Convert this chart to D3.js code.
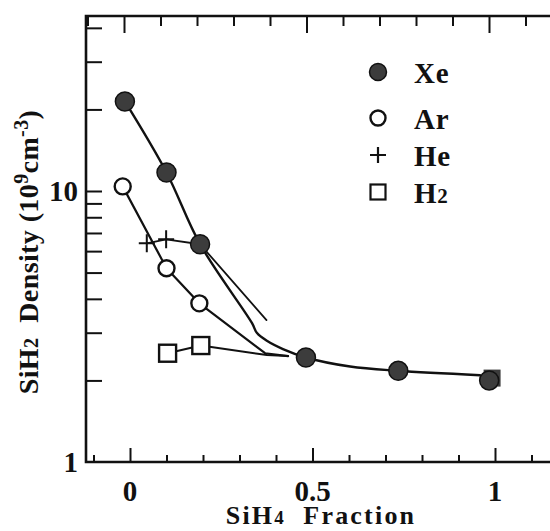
<!DOCTYPE html>
<html>
<head>
<meta charset="utf-8">
<script src="https://cdn.jsdelivr.net/npm/d3@7"></script>
<style>
  html, body { margin: 0; padding: 0; background: #fff; }
  svg { display: block; }
  text { font-family: "Liberation Serif", "Times New Roman", serif; font-weight: bold; fill: #111; }
</style>
</head>
<body>
<svg id="chart" width="550" height="531"></svg>
<script>
// Measured SiH2 density (10^9 cm^-3) versus SiH4 fraction for each diluent gas
const xeFraction = [-0.014, 0.100, 0.192, 0.482, 0.735, 0.984];
const xeDensity  = [21.4, 11.7, 6.36, 2.43, 2.17, 2.00];
const arFraction = [-0.020, 0.100, 0.190];
const arDensity  = [10.4, 5.19, 3.85];
const heFraction = [0.046, 0.099];
const heDensity  = [6.41, 6.63];
const h2Fraction = [0.103, 0.194];
const h2Density  = [2.52, 2.69];
// pure SiH4 point drawn as a filled square behind the last Xe point
const pureFraction = [0.992];
const pureDensity  = [2.04];

// Hand-drawn guide curves through each data set
const xeCurveFraction = [-0.014, 0.100, 0.192, 0.334, 0.348, 0.375, 0.419, 0.482, 0.603, 0.734, 0.959];
const xeCurveDensity  = [21.4, 11.7, 6.36, 3.26, 2.99, 2.80, 2.61, 2.43, 2.25, 2.17, 2.09];
const heCurveFraction = [0.046, 0.099, 0.192, 0.374];
const heCurveDensity  = [6.41, 6.63, 6.36, 3.34];
const arCurveFraction = [-0.020, 0.100, 0.190, 0.370, 0.433];
const arCurveDensity  = [10.4, 5.19, 3.85, 2.52, 2.46];
const h2CurveFraction = [0.103, 0.194, 0.375, 0.433];
const h2CurveDensity  = [2.52, 2.69, 2.48, 2.46];

// Axis ticks
const xMajorTicks = [0, 0.5, 1];
const xTickLabels = ["0", "0.5", "1"];
const xMinorTicks = [-0.1, 0.1, 0.2, 0.3, 0.4, 0.6, 0.7, 0.8, 0.9, 1.1];
const yTicks = [2, 3, 4, 5, 6, 7, 8, 9, 10, 20, 30, 40];
const yTickLabels = [{v: 1, t: "1"}, {v: 10, t: "10"}];

const legendItems = ["Xe", "Ar", "He", "H2"];

const svg = d3.select("#chart");
const frame = {left: 86, top: 16, right: 570, bottom: 462};

const x = d3.scaleLinear().domain([0, 1]).range([130, 495]);
const y = d3.scaleLog().domain([1, 10]).range([462, 191]);

const zip = (a, b) => a.map((v, i) => [v, b[i]]);

// ---- axes ----
const axisStroke = "#111";
function styleAxis(g) {
  g.select(".domain").remove();
  g.selectAll(".tick line").attr("stroke", axisStroke).attr("stroke-width", 2);
  g.selectAll(".tick text").remove();
}

svg.append("g").attr("transform", `translate(0,${frame.bottom})`)
  .call(d3.axisBottom(x).tickValues(xMajorTicks).tickSize(-14)).call(styleAxis);
svg.append("g").attr("transform", `translate(0,${frame.bottom})`)
  .call(d3.axisBottom(x).tickValues(xMinorTicks).tickSize(-7)).call(styleAxis);
svg.append("g").attr("transform", `translate(-6,${frame.top})`)
  .call(d3.axisTop(x).tickValues(xMajorTicks).tickSize(-17)).call(styleAxis);
svg.append("g").attr("transform", `translate(-6,${frame.top})`)
  .call(d3.axisTop(x).tickValues(xMinorTicks).tickSize(-10)).call(styleAxis);
svg.append("g").attr("transform", `translate(${frame.left},0)`)
  .call(d3.axisLeft(y).tickValues(yTicks).tickSize(-16)).call(styleAxis);

// frame lines (right side runs past the page edge)
svg.append("path")
  .attr("d", `M${frame.right},${frame.top}H${frame.left}V${frame.bottom}H${frame.right}`)
  .attr("fill", "none").attr("stroke", axisStroke).attr("stroke-width", 2.6);

// tick labels
svg.selectAll(".xlab").data(xMajorTicks).join("text")
  .attr("x", d => x(d)).attr("y", 501)
  .attr("text-anchor", "middle").attr("font-size", 29)
  .text((d, i) => xTickLabels[i]);
svg.selectAll(".ylab").data(yTickLabels).join("text")
  .attr("x", 78).attr("y", d => y(d.v) + 10)
  .attr("text-anchor", "end").attr("font-size", 29)
  .text(d => d.t);

// axis titles
const xt = svg.append("text").attr("x", 321).attr("y", 524)
  .attr("text-anchor", "middle").attr("font-size", 26).attr("letter-spacing", 2.2);
xt.append("tspan").text("SiH");
xt.append("tspan").attr("font-size", 19).text("4");
xt.append("tspan").text("\u00a0 Fraction");

const yt = svg.append("text")
  .attr("transform", "translate(38,252) rotate(-90)")
  .attr("text-anchor", "middle").attr("font-size", 28).attr("letter-spacing", 0.4);
yt.append("tspan").text("SiH");
yt.append("tspan").attr("font-size", 20).text("2");
yt.append("tspan").text("\u00a0 Density (10");
yt.append("tspan").attr("font-size", 20).attr("dy", -10).text("9");
yt.append("tspan").attr("dy", 10).text("cm");
yt.append("tspan").attr("font-size", 20).attr("dy", -10).text("-3");
yt.append("tspan").attr("dy", 10).text(")");

// ---- curves ----
const line = d3.line().x(d => x(d[0])).y(d => y(d[1]));
const g = svg.append("g").attr("fill", "none").attr("stroke", "#111").attr("stroke-linejoin", "round").attr("stroke-linecap", "round");
g.append("path").attr("d", line.curve(d3.curveCatmullRom.alpha(0.5))(zip(xeCurveFraction, xeCurveDensity))).attr("stroke-width", 2.4);
g.append("path").attr("d", line.curve(d3.curveLinear)(zip(heCurveFraction, heCurveDensity))).attr("stroke-width", 1.8);
g.append("path").attr("d", line.curve(d3.curveLinear)(zip(arCurveFraction, arCurveDensity))).attr("stroke-width", 2.2);
g.append("path").attr("d", line.curve(d3.curveLinear)(zip(h2CurveFraction, h2CurveDensity))).attr("stroke-width", 2);

// ---- markers ----
const xeFill = "#3c3c3c";
const sq = 17;
svg.selectAll(".pure").data(zip(pureFraction, pureDensity)).join("rect")
  .attr("x", d => x(d[0]) - sq / 2).attr("y", d => y(d[1]) - sq / 2)
  .attr("width", sq).attr("height", sq).attr("fill", xeFill);
svg.selectAll(".xe").data(zip(xeFraction, xeDensity)).join("circle")
  .attr("cx", d => x(d[0])).attr("cy", d => y(d[1])).attr("r", 9.5)
  .attr("fill", xeFill).attr("stroke", "#111").attr("stroke-width", 1.5);
svg.selectAll(".ar").data(zip(arFraction, arDensity)).join("circle")
  .attr("cx", d => x(d[0])).attr("cy", d => y(d[1])).attr("r", 8)
  .attr("fill", "#fff").attr("stroke", "#111").attr("stroke-width", 2.4);
svg.selectAll(".he").data(zip(heFraction, heDensity)).join("path")
  .attr("d", d => `M${x(d[0]) - 8},${y(d[1])}h16M${x(d[0])},${y(d[1]) - 9}v18`)
  .attr("fill", "none").attr("stroke", "#111").attr("stroke-width", 2);
svg.selectAll(".h2").data(zip(h2Fraction, h2Density)).join("rect")
  .attr("x", d => x(d[0]) - sq / 2).attr("y", d => y(d[1]) - sq / 2)
  .attr("width", sq).attr("height", sq)
  .attr("fill", "#fff").attr("stroke", "#111").attr("stroke-width", 2.4);

// ---- legend ----
const legX = 378, legY = [72, 118, 155, 192];
const lg = svg.append("g");
lg.append("circle").attr("cx", legX).attr("cy", legY[0]).attr("r", 8.5)
  .attr("fill", xeFill).attr("stroke", "#111").attr("stroke-width", 1.5);
lg.append("circle").attr("cx", legX).attr("cy", legY[1]).attr("r", 7.5)
  .attr("fill", "#fff").attr("stroke", "#111").attr("stroke-width", 2.4);
lg.append("path").attr("d", `M${legX - 8},${legY[2]}h16M${legX},${legY[2] - 8}v16`)
  .attr("stroke", "#111").attr("stroke-width", 2.2);
lg.append("rect").attr("x", legX - 7.5).attr("y", legY[3] - 7.5).attr("width", 15).attr("height", 15)
  .attr("fill", "#fff").attr("stroke", "#111").attr("stroke-width", 2.2);
legendItems.forEach((name, i) => {
  const t = lg.append("text").attr("x", 414).attr("y", legY[i] + 11)
    .attr("font-size", 29).attr("letter-spacing", 0.8);
  if (name === "H2") {
    t.append("tspan").text("H");
    t.append("tspan").attr("font-size", 21).text("2");
  } else {
    t.text(name);
  }
});
</script>
</body>
</html>
